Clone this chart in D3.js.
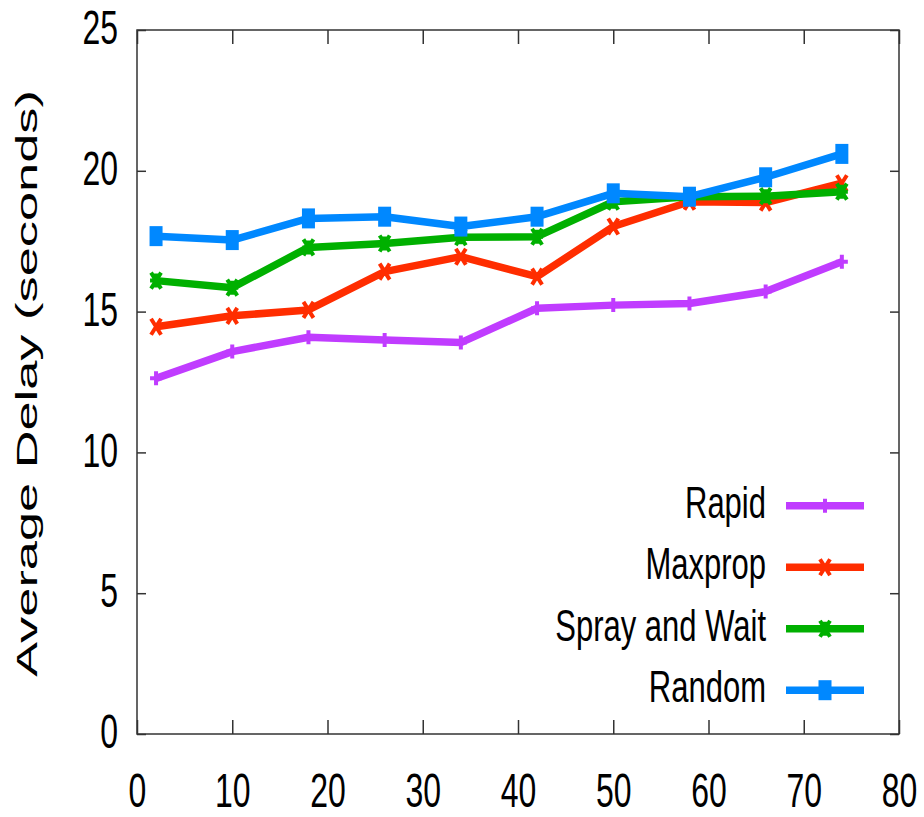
<!DOCTYPE html>
<html>
<head>
<meta charset="utf-8">
<script src="https://cdn.jsdelivr.net/npm/d3@7"></script>
<style>
  html, body { margin: 0; padding: 0; background: #fff; }
  svg { display: block; }
  text { font-family: "Liberation Sans", Arial, Helvetica, sans-serif; fill: #000; }
</style>
</head>
<body>
<svg id="chart" width="924" height="817"></svg>
<script>
// Average delay vs. x for four routing protocols
const xValues = [2, 10, 18, 26, 34, 42, 50, 58, 66, 74];
const rapid    = [12.63, 13.58, 14.09, 13.99, 13.90, 15.12, 15.23, 15.29, 15.71, 16.77];
const maxprop  = [14.46, 14.85, 15.06, 16.42, 16.95, 16.24, 18.02, 18.90, 18.87, 19.56];
const spray    = [16.10, 15.85, 17.28, 17.42, 17.64, 17.66, 18.90, 19.08, 19.10, 19.26];
const randomRt = [17.68, 17.54, 18.31, 18.37, 18.02, 18.37, 19.20, 19.08, 19.77, 20.60];

const seriesNames = ["Rapid", "Maxprop", "Spray and Wait", "Random"];
const xTicks = [0, 10, 20, 30, 40, 50, 60, 70, 80];
const yTicks = [0, 5, 10, 15, 20, 25];
const yLabel = "Average Delay (seconds)";

const series = [
  { name: seriesNames[0], values: rapid,    color: "#c03cff", marker: "plus" },
  { name: seriesNames[1], values: maxprop,  color: "#ff2d00", marker: "cross" },
  { name: seriesNames[2], values: spray,    color: "#00b000", marker: "star" },
  { name: seriesNames[3], values: randomRt, color: "#0088ff", marker: "square" }
];

const svg = d3.select("#chart");
const plot = { left: 137, right: 899, top: 30, bottom: 734 };
const stretch = 1.5; // vertical glyph stretch

const x = d3.scaleLinear().domain([0, 80]).range([plot.left, plot.right]);
const y = d3.scaleLinear().domain([0, 25]).range([plot.bottom, plot.top]);

// Axes: labelled bottom/left, mirrored ticks on top/right
const frameColor = "#333";
const fontSize = 32;

const gx = svg.append("g").attr("transform", `translate(0,${plot.bottom})`)
  .call(d3.axisBottom(x).tickValues(xTicks).tickSizeInner(-14).tickSizeOuter(0).tickFormat(d3.format("d")));
const gy = svg.append("g").attr("transform", `translate(${plot.left},0)`)
  .call(d3.axisLeft(y).tickValues(yTicks).tickSizeInner(-9).tickSizeOuter(0).tickFormat(d3.format("d")));
const gxt = svg.append("g").attr("transform", `translate(0,${plot.top})`)
  .call(d3.axisTop(x).tickValues(xTicks).tickSizeInner(-14).tickSizeOuter(0).tickFormat(""));
const gyr = svg.append("g").attr("transform", `translate(${plot.right},0)`)
  .call(d3.axisRight(y).tickValues(yTicks).tickSizeInner(-9).tickSizeOuter(0).tickFormat(""));

[gx, gy, gxt, gyr].forEach(g => {
  g.select(".domain").remove();
  g.selectAll(".tick line").attr("stroke", frameColor).attr("stroke-width", 1.5);
});
gxt.selectAll("text").remove();
gyr.selectAll("text").remove();

gx.selectAll(".tick text")
  .attr("y", null).attr("dy", null)
  .attr("font-size", fontSize)
  .attr("font-family", null)
  .attr("fill", "#000")
  .attr("transform", `translate(0,${789.5 - plot.bottom}) scale(1,${stretch})`)
  .attr("dy", "0.358em");

gy.selectAll(".tick text")
  .attr("x", null).attr("dy", null)
  .attr("font-size", fontSize)
  .attr("font-family", null)
  .attr("fill", "#000")
  .attr("text-anchor", "end")
  .attr("transform", `translate(-19,-3.5) scale(1,${stretch})`)
  .attr("dy", "0.358em");

// Plot frame
svg.append("rect")
  .attr("x", plot.left).attr("y", plot.top)
  .attr("width", plot.right - plot.left).attr("height", plot.bottom - plot.top)
  .attr("fill", "none").attr("stroke", frameColor).attr("stroke-width", 1.5);

// Marker drawing
function drawMarker(g, type, color) {
  if (type === "square") {
    g.append("rect").attr("x", -6.5).attr("y", -10).attr("width", 13).attr("height", 20).attr("fill", color);
    return;
  }
  const p = g.append("path").attr("fill", "none").attr("stroke", color).attr("stroke-width", 4)
    .attr("stroke-linecap", "butt");
  let d = "";
  if (type === "plus" || type === "star") d += "M0,-7V7M-6,0H6";
  if (type === "cross" || type === "star") d += "M-5,-8L5,8M-5,8L5,-8";
  p.attr("d", d);
}

const line = d3.line().x((d, i) => x(xValues[i])).y(d => y(d));

series.forEach(s => {
  svg.append("path")
    .datum(s.values)
    .attr("d", line)
    .attr("fill", "none")
    .attr("stroke", s.color)
    .attr("stroke-width", 7.5)
    .attr("stroke-linejoin", "round");
  s.values.forEach((v, i) => {
    const g = svg.append("g").attr("transform", `translate(${x(xValues[i])},${y(v)})`);
    drawMarker(g, s.marker, s.color);
  });
});

// Legend
const legend = { textRight: 766, lineX0: 786, lineX1: 864, top: 505.7, step: 61.5 };
series.forEach((s, i) => {
  const cy = legend.top + i * legend.step;
  svg.append("text")
    .attr("text-anchor", "end")
    .attr("font-size", 31)
    .attr("transform", `translate(${legend.textRight},${cy - 4}) scale(1,1.45)`)
    .attr("dy", "0.358em")
    .text(s.name);
  svg.append("line")
    .attr("x1", legend.lineX0).attr("x2", legend.lineX1)
    .attr("y1", cy).attr("y2", cy)
    .attr("stroke", s.color).attr("stroke-width", 7.5);
  const g = svg.append("g").attr("transform", `translate(${(legend.lineX0 + legend.lineX1) / 2},${cy})`);
  drawMarker(g, s.marker, s.color);
});

// Y axis title
const yt = svg.append("text")
  .attr("text-anchor", "middle")
  .attr("font-size", 30)
  .text(yLabel);
const len = yt.node().getComputedTextLength();
const sx = 587 / len;
yt.attr("transform", `translate(37,383.5) rotate(-90) scale(${sx},1)`);
</script>
</body>
</html>
